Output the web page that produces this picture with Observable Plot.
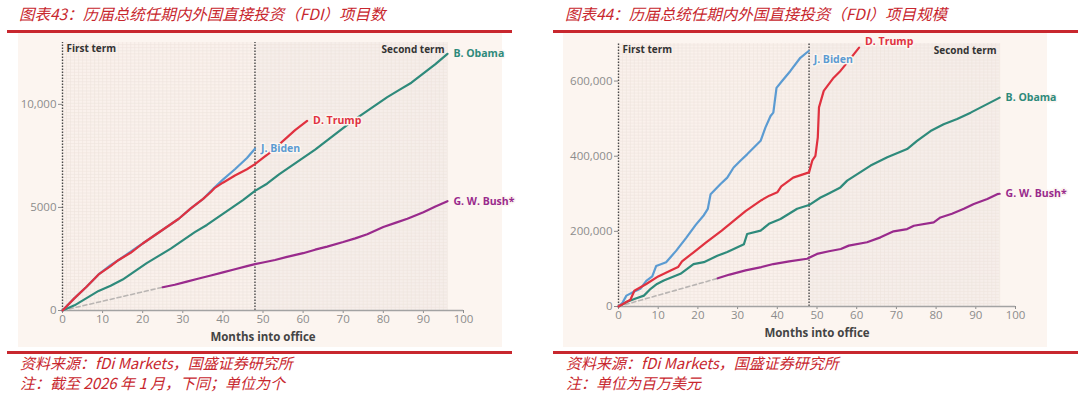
<!DOCTYPE html>
<html>
<head>
<meta charset="utf-8">
<script src="https://cdn.jsdelivr.net/npm/d3@7"></script>
<script src="https://cdn.jsdelivr.net/npm/@observablehq/plot@0.6"></script>
<style>
  body { margin:0; width:1080px; height:399px; background:#fff; position:relative; overflow:hidden; font-family:"Open Sans", sans-serif; }
  .title { position:absolute; font-family:"Noto Sans CJK SC", sans-serif; font-style:italic; color:#c8272e; font-size:15.5px; line-height:20px; white-space:nowrap; }
  .note { position:absolute; font-family:"Noto Sans CJK SC", sans-serif; font-style:italic; color:#c8272e; font-size:15px; line-height:20px; white-space:nowrap; }
  .rule { position:absolute; height:2.5px; background:#c8272e; }
  .chart { position:absolute; width:484px; height:314px; background:#fcf5f0; }
  .chart svg { display:block; overflow:visible !important; }
</style>
</head>
<body>
<div class="title" style="left:19px;top:3px;">图表43：历届总统任期内外国直接投资（FDI）项目数</div>
<div class="rule" style="left:7px;top:30px;width:505px;"></div>
<div class="chart" id="c1" style="left:18px;top:33px;"></div>
<div class="rule" style="left:7px;top:351px;width:505px;"></div>
<div class="note" style="left:20px;top:353px;">资料来源：fDi Markets，国盛证券研究所</div>
<div class="note" style="left:20px;top:373px;">注：截至 2026 年 1 月，下同；单位为个</div>

<div class="title" style="left:565px;top:3px;">图表44：历届总统任期内外国直接投资（FDI）项目规模</div>
<div class="rule" style="left:553px;top:30px;width:525px;"></div>
<div class="chart" id="c2" style="left:563px;top:33px;"></div>
<div class="rule" style="left:553px;top:351px;width:525px;"></div>
<div class="note" style="left:566px;top:353px;">资料来源：fDi Markets，国盛证券研究所</div>
<div class="note" style="left:566px;top:373px;">注：单位为百万美元</div>

<script>
// ---------- Shared ----------
const xTicks = [0, 10, 20, 30, 40, 50, 60, 70, 80, 90, 100];
const seriesNames = ["B. Obama", "D. Trump", "J. Biden", "G. W. Bush*"];
const seriesColors = ["#2e8a7b", "#e0313f", "#5b9bd2", "#992a8c"];
const termLabels = ["First term", "Second term"];
const xAxisLabel = "Months into office";

// ---------- Chart 43: number of FDI projects ----------
const countYTicks = [0, 5000, 10000];
const countObama = [[0,0],[3,250],[6,600],[9,950],[12,1200],[15,1500],[18,1900],[21,2300],[24,2650],[27,3000],[30,3400],[33,3800],[36,4150],[39,4550],[42,4950],[45,5350],[48,5800],[51,6150],[54,6600],[57,7000],[60,7400],[63,7800],[66,8250],[69,8700],[72,9150],[75,9550],[78,9950],[81,10350],[84,10700],[87,11050],[90,11500],[93,11950],[96,12450]];
const countTrump = [[0,0],[3,600],[6,1150],[9,1750],[12,2150],[14,2450],[17,2800],[20,3250],[23,3650],[26,4050],[29,4450],[32,4950],[35,5400],[37,5750],[38,5950],[40,6200],[43,6550],[46,6850],[48,7100],[50,7400],[52,7700],[54,8050],[56,8400],[58,8750],[61,9200]];
const countBiden = [[0,0],[3,600],[6,1150],[9,1750],[12,2200],[14,2450],[17,2850],[20,3250],[23,3650],[26,4050],[29,4450],[32,4950],[35,5400],[37,5800],[40,6350],[43,6850],[46,7400],[48,7850]];
const countBush = [[25,1130],[28,1250],[31,1400],[34,1550],[37,1700],[40,1850],[43,2000],[46,2150],[48,2250],[50,2330],[53,2450],[56,2600],[60,2780],[63,2950],[66,3100],[70,3320],[73,3500],[76,3700],[80,4050],[83,4250],[86,4450],[90,4770],[93,5050],[96,5300]];
const countBushGap = [[0,0],[25,1130]];

// ---------- Chart 44: value of FDI projects (USD mn) ----------
const valueYTicks = [0, 200000, 400000, 600000];
const valueObama = [[0,0],[2,12000],[4,20000],[6.4,29000],[8.1,47000],[9.7,60000],[11.4,69000],[15.6,87000],[17.3,100000],[18.9,113000],[21.5,118000],[24.9,135000],[27.4,145000],[31.6,166000],[32.4,193000],[35.8,202000],[37.9,220000],[40.8,233000],[45,260000],[48,270000],[50.9,290000],[52.6,299000],[55.9,317000],[57.6,335000],[63.5,375000],[67.7,397000],[72.7,419000],[75.2,441000],[78.6,467000],[81.9,485000],[85.3,499000],[88.7,516000],[92,534000],[95.3,552000],[96,556000]];
const valueTrump = [[0,0],[2,12000],[3,18000],[4,42000],[7,60000],[10,80000],[13,95000],[15,105000],[16,120000],[19,145000],[22,170000],[26,202000],[29,228000],[32,254000],[36,283000],[38,295000],[40,304000],[41,320000],[44,343000],[48,357000],[48.8,388000],[49.6,401000],[50.2,450000],[50.5,530000],[51.7,574000],[54.2,609000],[55.9,627000],[57.6,649000],[60.6,689000]];
const valueBiden = [[0,0],[1,10000],[2,29000],[4,40000],[5.5,47000],[7,68000],[8.5,80000],[9.5,108000],[12,118000],[14.5,148000],[17,182000],[19.5,218000],[21.5,243000],[22.5,260000],[23.2,299000],[25.7,326000],[27.4,343000],[29,370000],[30.7,388000],[32.4,405000],[34.1,423000],[35.8,441000],[37,476000],[38.3,507000],[39,516000],[39.8,582000],[41.2,600000],[43.3,627000],[45.8,662000],[47.9,680000]];
const valueBush = [[25,75000],[28,85000],[32,96000],[36,105000],[39,113000],[43,120000],[47.5,127000],[50,140000],[53,147000],[56,153000],[58,162000],[62.6,171000],[66,184000],[69.3,200000],[72.7,206000],[74.4,215000],[79.4,224000],[81.1,237000],[84,247000],[87,260000],[89.5,273000],[92.9,286000],[95.4,299000],[96,300000]];
const valueBushGap = [[0,0],[25,75000]];

const BG = "#fcf5f0";

function makeChart(cfg) {
  const {series, gap, yMax, yTicks, yFmt, gridStep, labelOffsets, margins} = cfg;
  const X = d => d[0], Y = d => d[1];
  const marks = [
    Plot.rect([[0,48,"#faf1ec"],[48,96,"#f6eeea"]], {x1: d => d[0], x2: d => d[1], y1: 0, y2: yMax, fill: d => d[2]}),
    Plot.ruleX(d3.range(0, 96.01, 1), {y1: 0, y2: yMax, stroke: "#eee4de", strokeWidth: 0.6}),
    Plot.ruleY(d3.range(0, yMax, gridStep), {x1: 0, x2: 96, stroke: "#eee4de", strokeWidth: 0.6}),
    Plot.ruleX([0, 48], {y1: 0, y2: yMax, stroke: "#4a4a4a", strokeWidth: 1.4, strokeDasharray: "1.5,1.5"}),
    Plot.ruleY([0], {x1: 0, x2: 100, stroke: "#a3a3a3", strokeWidth: 1.6}),
    Plot.line(gap, {x: X, y: Y, stroke: "#b9b5b3", strokeWidth: 1.6, strokeDasharray: "4,3"}),
  ];
  // draw order: Obama, Biden, Trump, Bush
  [0, 2, 1, 3].forEach(i => {
    marks.push(Plot.line(series[i], {x: X, y: Y, stroke: seriesColors[i], strokeWidth: 2.2, strokeLinejoin: "round"}));
  });
  series.forEach((s, i) => {
    const last = s[s.length - 1];
    marks.push(Plot.text([last], {x: X, y: Y, text: () => seriesNames[i], fill: seriesColors[i],
      textAnchor: "start", dx: labelOffsets[i][0], dy: labelOffsets[i][1], fontSize: 10.5, fontWeight: "bold",
      stroke: BG, strokeWidth: 3, paintOrder: "stroke"}));
  });
  marks.push(Plot.text([termLabels[0]], {x: 0, y: yMax, text: d => d, textAnchor: "start", dx: 4, dy: 6, fill: "#333", fontSize: 10, fontWeight: "bold"}));
  marks.push(Plot.text([termLabels[1]], {x: 96, y: yMax, text: d => d, textAnchor: "end", dx: -3, dy: 7, fill: "#333", fontSize: 10, fontWeight: "bold"}));
  marks.push(Plot.text([xAxisLabel], {frameAnchor: "bottom", text: d => d, dy: 30, fill: "#444", fontSize: 11.5, fontWeight: "bold"}));
  return Plot.plot({
    width: 484, height: 314,
    marginLeft: margins[0], marginRight: margins[1], marginTop: margins[2], marginBottom: margins[3],
    style: {background: "transparent", fontFamily: "Open Sans, sans-serif", fontSize: "11.5px", color: "#8c8c8c", overflow: "visible"},
    x: {domain: [0, 100], ticks: xTicks, tickSize: 3, tickPadding: 1, label: null},
    y: {domain: [0, yMax], ticks: yTicks, tickFormat: yFmt, tickSize: 4, tickPadding: 2, label: null},
    marks
  });
}

document.getElementById("c1").appendChild(makeChart({
  series: [countObama, countTrump, countBiden, countBush],
  gap: countBushGap, yMax: 13000, yTicks: countYTicks,
  yFmt: d => d >= 10000 ? d3.format(",")(d) : String(d),
  gridStep: 150,
  labelOffsets: [[6, 0], [6, 0], [6, 0], [6, 0]],
  margins: [44, 39, 9, 37]
}));

document.getElementById("c2").appendChild(makeChart({
  series: [valueObama, valueTrump, valueBiden, valueBush],
  gap: valueBushGap, yMax: 700000, yTicks: valueYTicks,
  yFmt: d3.format(","),
  gridStep: 8000,
  labelOffsets: [[6, 0], [6, -6], [5, 9], [6, 0]],
  margins: [55, 32, 10, 41]
}));
</script>
</body>
</html>
